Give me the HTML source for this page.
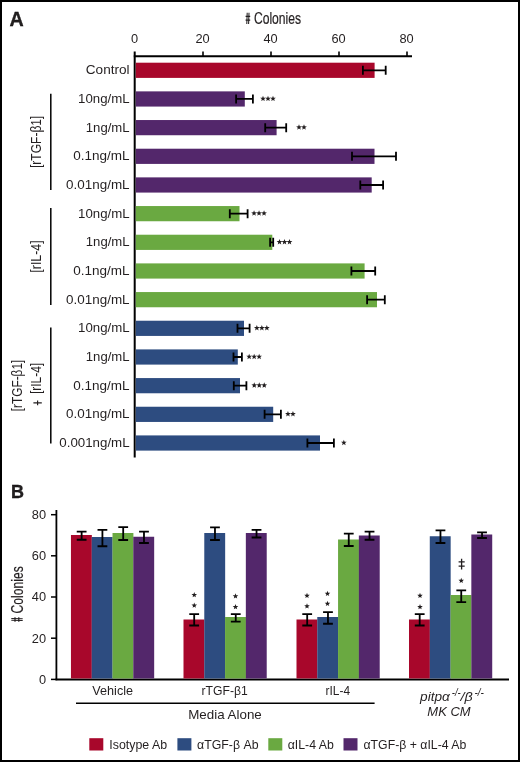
<!DOCTYPE html>
<html><head><meta charset="utf-8"><title>Figure</title>
<style>html,body{margin:0;padding:0;background:#fff}body{width:520px;height:762px;overflow:hidden}svg{display:block;will-change:transform}text{font-family:"Liberation Sans",sans-serif;fill:#231f20}</style>
</head><body>
<svg width="520" height="762" viewBox="0 0 520 762">
<rect x="0" y="0" width="520" height="762" fill="#fff"/>
<rect x="1" y="1" width="518" height="760" fill="none" stroke="#000" stroke-width="2"/>
<text x="9.4" y="26.2" font-size="19.6" font-weight="bold" fill="#000" stroke="#000" stroke-width="0.3" textLength="14.2" lengthAdjust="spacingAndGlyphs">A</text>
<g transform="translate(245.6 24.1)"><path d="M1.6 -11.4L1.2 0M3.4 -11.4L3 0" stroke="#231f20" stroke-width="1.05" fill="none"/><path d="M0 -7.7H4.6M0 -3.9H4.6" stroke="#231f20" stroke-width="1.2" fill="none"/><text x="8.3" y="0" font-size="16" textLength="47.2" stroke="#231f20" stroke-width="0.2" lengthAdjust="spacingAndGlyphs">Colonies</text></g>
<g stroke="#000" stroke-width="1.8" fill="none">
<path d="M134.7 51.5V457.5" stroke-width="2"/>
<path d="M133.8 56.3H412" stroke-width="2"/>
<path d="M203.0 51.5V56.3" stroke-width="1.6"/>
<path d="M271.0 51.5V56.3" stroke-width="1.6"/>
<path d="M339.0 51.5V56.3" stroke-width="1.6"/>
<path d="M407.0 51.5V56.3" stroke-width="1.6"/>
</g>
<text x="134.6" y="43.3" font-size="12.8" text-anchor="middle">0</text>
<text x="202.6" y="43.3" font-size="12.8" text-anchor="middle">20</text>
<text x="270.6" y="43.3" font-size="12.8" text-anchor="middle">40</text>
<text x="338.6" y="43.3" font-size="12.8" text-anchor="middle">60</text>
<text x="406.6" y="43.3" font-size="12.8" text-anchor="middle">80</text>
<rect x="135.8" y="62.70" width="238.8" height="15.2" fill="#a8072b"/>
<rect x="135.8" y="91.37" width="109.0" height="15.2" fill="#53276b"/>
<rect x="135.8" y="120.04" width="140.8" height="15.2" fill="#53276b"/>
<rect x="135.8" y="148.71" width="238.7" height="15.2" fill="#53276b"/>
<rect x="135.8" y="177.38" width="235.9" height="15.2" fill="#53276b"/>
<rect x="135.8" y="206.05" width="103.7" height="15.2" fill="#6aa941"/>
<rect x="135.8" y="234.72" width="136.5" height="15.2" fill="#6aa941"/>
<rect x="135.8" y="263.39" width="228.8" height="15.2" fill="#6aa941"/>
<rect x="135.8" y="292.06" width="241.2" height="15.2" fill="#6aa941"/>
<rect x="135.8" y="320.73" width="108.2" height="15.2" fill="#2d4c80"/>
<rect x="135.8" y="349.40" width="102.0" height="15.2" fill="#2d4c80"/>
<rect x="135.8" y="378.07" width="104.2" height="15.2" fill="#2d4c80"/>
<rect x="135.8" y="406.74" width="137.4" height="15.2" fill="#2d4c80"/>
<rect x="135.8" y="435.41" width="184.2" height="15.2" fill="#2d4c80"/>
<path d="M362.3 70.30H386.3M362.9 65.80V74.80M385.7 65.80V74.80" stroke="#000" stroke-width="1.8" fill="none"/>
<text x="85.8" y="74.40" font-size="13.3" textLength="43.8" lengthAdjust="spacingAndGlyphs">Control</text>
<path d="M235.5 98.97H253.5M236.1 94.47V103.47M252.9 94.47V103.47" stroke="#000" stroke-width="1.8" fill="none"/>
<g fill="#231f20"><polygon points="263.00,95.67 263.74,97.65 265.85,97.74 264.20,99.06 264.76,101.10 263.00,99.93 261.24,101.10 261.80,99.06 260.15,97.74 262.26,97.65"/><polygon points="268.00,95.67 268.74,97.65 270.85,97.74 269.20,99.06 269.76,101.10 268.00,99.93 266.24,101.10 266.80,99.06 265.15,97.74 267.26,97.65"/><polygon points="273.00,95.67 273.74,97.65 275.85,97.74 274.20,99.06 274.76,101.10 273.00,99.93 271.24,101.10 271.80,99.06 270.15,97.74 272.26,97.65"/></g>
<text x="78.1" y="103.07" font-size="13.3" textLength="51.5" lengthAdjust="spacingAndGlyphs">10ng/mL</text>
<path d="M264.6 127.64H286.8M265.2 123.14V132.14M286.2 123.14V132.14" stroke="#000" stroke-width="1.8" fill="none"/>
<g fill="#231f20"><polygon points="299.00,124.34 299.74,126.32 301.85,126.41 300.20,127.73 300.76,129.77 299.00,128.60 297.24,129.77 297.80,127.73 296.15,126.41 298.26,126.32"/><polygon points="304.00,124.34 304.74,126.32 306.85,126.41 305.20,127.73 305.76,129.77 304.00,128.60 302.24,129.77 302.80,127.73 301.15,126.41 303.26,126.32"/></g>
<text x="85.8" y="131.74" font-size="13.3" textLength="43.8" lengthAdjust="spacingAndGlyphs">1ng/mL</text>
<path d="M351.4 156.31H396.6M352.0 151.81V160.81M396.0 151.81V160.81" stroke="#000" stroke-width="1.8" fill="none"/>
<text x="73.3" y="160.41" font-size="13.3" textLength="56.3" lengthAdjust="spacingAndGlyphs">0.1ng/mL</text>
<path d="M359.7 184.98H383.7M360.3 180.48V189.48M383.1 180.48V189.48" stroke="#000" stroke-width="1.8" fill="none"/>
<text x="66.1" y="189.08" font-size="13.3" textLength="63.5" lengthAdjust="spacingAndGlyphs">0.01ng/mL</text>
<path d="M229.2 213.65H248.2M229.8 209.15V218.15M247.6 209.15V218.15" stroke="#000" stroke-width="1.8" fill="none"/>
<g fill="#231f20"><polygon points="254.05,210.35 254.79,212.33 256.90,212.42 255.25,213.74 255.81,215.78 254.05,214.61 252.29,215.78 252.85,213.74 251.20,212.42 253.31,212.33"/><polygon points="259.05,210.35 259.79,212.33 261.90,212.42 260.25,213.74 260.81,215.78 259.05,214.61 257.29,215.78 257.85,213.74 256.20,212.42 258.31,212.33"/><polygon points="264.05,210.35 264.79,212.33 266.90,212.42 265.25,213.74 265.81,215.78 264.05,214.61 262.29,215.78 262.85,213.74 261.20,212.42 263.31,212.33"/></g>
<text x="78.1" y="217.75" font-size="13.3" textLength="51.5" lengthAdjust="spacingAndGlyphs">10ng/mL</text>
<path d="M269.5 242.32H273.8M270.1 237.82V246.82M273.2 237.82V246.82" stroke="#000" stroke-width="1.8" fill="none"/>
<g fill="#231f20"><polygon points="279.50,239.02 280.24,241.00 282.35,241.09 280.70,242.41 281.26,244.45 279.50,243.28 277.74,244.45 278.30,242.41 276.65,241.09 278.76,241.00"/><polygon points="284.50,239.02 285.24,241.00 287.35,241.09 285.70,242.41 286.26,244.45 284.50,243.28 282.74,244.45 283.30,242.41 281.65,241.09 283.76,241.00"/><polygon points="289.50,239.02 290.24,241.00 292.35,241.09 290.70,242.41 291.26,244.45 289.50,243.28 287.74,244.45 288.30,242.41 286.65,241.09 288.76,241.00"/></g>
<text x="85.8" y="246.42" font-size="13.3" textLength="43.8" lengthAdjust="spacingAndGlyphs">1ng/mL</text>
<path d="M350.8 270.99H375.8M351.4 266.49V275.49M375.2 266.49V275.49" stroke="#000" stroke-width="1.8" fill="none"/>
<text x="73.3" y="275.09" font-size="13.3" textLength="56.3" lengthAdjust="spacingAndGlyphs">0.1ng/mL</text>
<path d="M366.5 299.66H385.4M367.1 295.16V304.16M384.8 295.16V304.16" stroke="#000" stroke-width="1.8" fill="none"/>
<text x="66.1" y="303.76" font-size="13.3" textLength="63.5" lengthAdjust="spacingAndGlyphs">0.01ng/mL</text>
<path d="M236.9 328.33H250.2M237.5 323.83V332.83M249.6 323.83V332.83" stroke="#000" stroke-width="1.8" fill="none"/>
<g fill="#231f20"><polygon points="256.85,325.03 257.59,327.01 259.70,327.10 258.05,328.42 258.61,330.46 256.85,329.29 255.09,330.46 255.65,328.42 254.00,327.10 256.11,327.01"/><polygon points="261.85,325.03 262.59,327.01 264.70,327.10 263.05,328.42 263.61,330.46 261.85,329.29 260.09,330.46 260.65,328.42 259.00,327.10 261.11,327.01"/><polygon points="266.85,325.03 267.59,327.01 269.70,327.10 268.05,328.42 268.61,330.46 266.85,329.29 265.09,330.46 265.65,328.42 264.00,327.10 266.11,327.01"/></g>
<text x="78.1" y="332.43" font-size="13.3" textLength="51.5" lengthAdjust="spacingAndGlyphs">10ng/mL</text>
<path d="M232.9 357.00H242.5M233.5 352.50V361.50M241.9 352.50V361.50" stroke="#000" stroke-width="1.8" fill="none"/>
<g fill="#231f20"><polygon points="249.15,353.70 249.89,355.68 252.00,355.77 250.35,357.09 250.91,359.13 249.15,357.96 247.39,359.13 247.95,357.09 246.30,355.77 248.41,355.68"/><polygon points="254.15,353.70 254.89,355.68 257.00,355.77 255.35,357.09 255.91,359.13 254.15,357.96 252.39,359.13 252.95,357.09 251.30,355.77 253.41,355.68"/><polygon points="259.15,353.70 259.89,355.68 262.00,355.77 260.35,357.09 260.91,359.13 259.15,357.96 257.39,359.13 257.95,357.09 256.30,355.77 258.41,355.68"/></g>
<text x="85.8" y="361.10" font-size="13.3" textLength="43.8" lengthAdjust="spacingAndGlyphs">1ng/mL</text>
<path d="M233.2 385.67H247.0M233.8 381.17V390.17M246.4 381.17V390.17" stroke="#000" stroke-width="1.8" fill="none"/>
<g fill="#231f20"><polygon points="254.25,382.37 254.99,384.35 257.10,384.44 255.45,385.76 256.01,387.80 254.25,386.63 252.49,387.80 253.05,385.76 251.40,384.44 253.51,384.35"/><polygon points="259.25,382.37 259.99,384.35 262.10,384.44 260.45,385.76 261.01,387.80 259.25,386.63 257.49,387.80 258.05,385.76 256.40,384.44 258.51,384.35"/><polygon points="264.25,382.37 264.99,384.35 267.10,384.44 265.45,385.76 266.01,387.80 264.25,386.63 262.49,387.80 263.05,385.76 261.40,384.44 263.51,384.35"/></g>
<text x="73.3" y="389.77" font-size="13.3" textLength="56.3" lengthAdjust="spacingAndGlyphs">0.1ng/mL</text>
<path d="M264.0 414.34H281.5M264.6 409.84V418.84M280.9 409.84V418.84" stroke="#000" stroke-width="1.8" fill="none"/>
<g fill="#231f20"><polygon points="287.95,411.04 288.69,413.02 290.80,413.11 289.15,414.43 289.71,416.47 287.95,415.30 286.19,416.47 286.75,414.43 285.10,413.11 287.21,413.02"/><polygon points="292.95,411.04 293.69,413.02 295.80,413.11 294.15,414.43 294.71,416.47 292.95,415.30 291.19,416.47 291.75,414.43 290.10,413.11 292.21,413.02"/></g>
<text x="66.1" y="418.44" font-size="13.3" textLength="63.5" lengthAdjust="spacingAndGlyphs">0.01ng/mL</text>
<path d="M306.8 443.01H334.5M307.4 438.51V447.51M333.9 438.51V447.51" stroke="#000" stroke-width="1.8" fill="none"/>
<g fill="#231f20"><polygon points="343.85,439.71 344.59,441.69 346.70,441.78 345.05,443.10 345.61,445.14 343.85,443.97 342.09,445.14 342.65,443.10 341.00,441.78 343.11,441.69"/></g>
<text x="59.3" y="447.11" font-size="13.3" textLength="70.3" lengthAdjust="spacingAndGlyphs">0.001ng/mL</text>
<g stroke="#000" stroke-width="1.5">
<path d="M50.8 93.8V190"/><path d="M50.8 208V305"/><path d="M50.8 327.4V443.4"/>
</g>
<g transform="translate(41.2 141.8) rotate(-90)">
<text x="-26.00" y="-0.7" font-size="14.5" textLength="3.13" lengthAdjust="spacingAndGlyphs">[</text>
<text x="-22.87" y="0.0" font-size="15.5" textLength="45.74" lengthAdjust="spacingAndGlyphs">rTGF-β1</text>
<text x="22.87" y="-0.7" font-size="14.5" textLength="3.13" lengthAdjust="spacingAndGlyphs">]</text>
</g>
<g transform="translate(41.2 256.5) rotate(-90)">
<text x="-15.90" y="-0.7" font-size="14.5" textLength="3.21" lengthAdjust="spacingAndGlyphs">[</text>
<text x="-12.69" y="0.0" font-size="15.5" textLength="25.38" lengthAdjust="spacingAndGlyphs">rIL-4</text>
<text x="12.69" y="-0.7" font-size="14.5" textLength="3.21" lengthAdjust="spacingAndGlyphs">]</text>
</g>
<g transform="translate(22.2 385.5) rotate(-90)">
<text x="-25.65" y="-0.7" font-size="14.5" textLength="3.09" lengthAdjust="spacingAndGlyphs">[</text>
<text x="-22.56" y="0.0" font-size="15.5" textLength="45.12" lengthAdjust="spacingAndGlyphs">rTGF-β1</text>
<text x="22.56" y="-0.7" font-size="14.5" textLength="3.09" lengthAdjust="spacingAndGlyphs">]</text>
</g>
<g transform="translate(41.2 378.4) rotate(-90)">
<text x="-15.40" y="-0.7" font-size="14.5" textLength="3.11" lengthAdjust="spacingAndGlyphs">[</text>
<text x="-12.29" y="0.0" font-size="15.5" textLength="24.58" lengthAdjust="spacingAndGlyphs">rIL-4</text>
<text x="12.29" y="-0.7" font-size="14.5" textLength="3.11" lengthAdjust="spacingAndGlyphs">]</text>
</g>
<path d="M33.4 402.9H41.8M37.6 400.5V405.3" stroke="#231f20" stroke-width="1.15" fill="none"/>
<text x="10.9" y="497.5" font-size="19.2" font-weight="bold" fill="#000" stroke="#000" stroke-width="0.3" textLength="13" lengthAdjust="spacingAndGlyphs">B</text>
<g stroke="#000" stroke-width="1.8" fill="none">
<path d="M56.4 510V680.2"/>
<path d="M55.5 679.4H509" stroke-width="2"/>
</g>
<g stroke="#000" stroke-width="1.5" fill="none">
<path d="M51 679.4H56.4"/>
<path d="M51 638.2H56.4"/>
<path d="M51 597.0H56.4"/>
<path d="M51 555.8H56.4"/>
<path d="M51 514.7H56.4"/>
</g>
<text x="46" y="683.6" font-size="12.8" text-anchor="end">0</text>
<text x="46" y="642.5" font-size="12.8" text-anchor="end">20</text>
<text x="46" y="601.3" font-size="12.8" text-anchor="end">40</text>
<text x="46" y="560.1" font-size="12.8" text-anchor="end">60</text>
<text x="46" y="519.0" font-size="12.8" text-anchor="end">80</text>
<g transform="translate(22.7 621.8) rotate(-90)"><path d="M1.6 -11.4L1.2 0M3.4 -11.4L3 0" stroke="#231f20" stroke-width="1.05" fill="none"/><path d="M0 -7.7H4.6M0 -3.9H4.6" stroke="#231f20" stroke-width="1.2" fill="none"/><text x="8.3" y="0" font-size="16" textLength="47.2" stroke="#231f20" stroke-width="0.2" lengthAdjust="spacingAndGlyphs">Colonies</text></g>
<rect x="70.95" y="535.00" width="20.88" height="143.45" fill="#a8072b"/>
<rect x="91.73" y="537.00" width="20.88" height="141.45" fill="#2d4c80"/>
<rect x="112.51" y="533.00" width="20.88" height="145.45" fill="#6aa941"/>
<rect x="133.29" y="536.75" width="20.88" height="141.70" fill="#53276b"/>
<rect x="183.50" y="619.50" width="20.88" height="58.95" fill="#a8072b"/>
<rect x="204.28" y="533.00" width="20.88" height="145.45" fill="#2d4c80"/>
<rect x="225.06" y="617.00" width="20.88" height="61.45" fill="#6aa941"/>
<rect x="245.84" y="533.00" width="20.88" height="145.45" fill="#53276b"/>
<rect x="296.50" y="619.50" width="20.88" height="58.95" fill="#a8072b"/>
<rect x="317.28" y="617.00" width="20.88" height="61.45" fill="#2d4c80"/>
<rect x="338.06" y="539.50" width="20.88" height="138.95" fill="#6aa941"/>
<rect x="358.84" y="535.50" width="20.88" height="142.95" fill="#53276b"/>
<rect x="409.00" y="619.50" width="20.88" height="58.95" fill="#a8072b"/>
<rect x="429.78" y="536.25" width="20.88" height="142.20" fill="#2d4c80"/>
<rect x="450.56" y="595.00" width="20.88" height="83.45" fill="#6aa941"/>
<rect x="471.34" y="534.50" width="20.88" height="143.95" fill="#53276b"/>
<path d="M81.64 531.55V539.75M76.74 531.55H86.54M76.74 539.75H86.54" stroke="#000" stroke-width="1.8" fill="none"/>
<path d="M102.42 529.80V546.25M97.52 529.80H107.32M97.52 546.25H107.32" stroke="#000" stroke-width="1.8" fill="none"/>
<path d="M123.20 527.05V540.00M118.30 527.05H128.10M118.30 540.00H128.10" stroke="#000" stroke-width="1.8" fill="none"/>
<path d="M143.98 531.55V543.00M139.08 531.55H148.88M139.08 543.00H148.88" stroke="#000" stroke-width="1.8" fill="none"/>
<path d="M194.19 614.05V625.50M189.29 614.05H199.09M189.29 625.50H199.09" stroke="#000" stroke-width="1.8" fill="none"/>
<path d="M214.97 527.30V540.00M210.07 527.30H219.87M210.07 540.00H219.87" stroke="#000" stroke-width="1.8" fill="none"/>
<path d="M235.75 614.05V621.70M230.85 614.05H240.65M230.85 621.70H240.65" stroke="#000" stroke-width="1.8" fill="none"/>
<path d="M256.53 529.80V537.50M251.63 529.80H261.43M251.63 537.50H261.43" stroke="#000" stroke-width="1.8" fill="none"/>
<path d="M307.19 614.05V625.50M302.29 614.05H312.09M302.29 625.50H312.09" stroke="#000" stroke-width="1.8" fill="none"/>
<path d="M327.97 612.05V623.75M323.07 612.05H332.87M323.07 623.75H332.87" stroke="#000" stroke-width="1.8" fill="none"/>
<path d="M348.75 533.55V546.00M343.85 533.55H353.65M343.85 546.00H353.65" stroke="#000" stroke-width="1.8" fill="none"/>
<path d="M369.53 531.55V539.75M364.63 531.55H374.43M364.63 539.75H374.43" stroke="#000" stroke-width="1.8" fill="none"/>
<path d="M419.69 614.05V625.50M414.79 614.05H424.59M414.79 625.50H424.59" stroke="#000" stroke-width="1.8" fill="none"/>
<path d="M440.47 530.30V543.00M435.57 530.30H445.37M435.57 543.00H445.37" stroke="#000" stroke-width="1.8" fill="none"/>
<path d="M461.25 590.30V602.10M456.35 590.30H466.15M456.35 602.10H466.15" stroke="#000" stroke-width="1.8" fill="none"/>
<path d="M482.03 532.30V538.00M477.13 532.30H486.93M477.13 538.00H486.93" stroke="#000" stroke-width="1.8" fill="none"/>
<g fill="#231f20">
<polygon points="194.25,592.10 194.97,594.01 197.01,594.10 195.41,595.38 195.95,597.35 194.25,596.22 192.55,597.35 193.09,595.38 191.49,594.10 193.53,594.01"/>
<polygon points="194.25,602.60 194.97,604.51 197.01,604.60 195.41,605.88 195.95,607.85 194.25,606.72 192.55,607.85 193.09,605.88 191.49,604.60 193.53,604.51"/>
<polygon points="235.50,593.35 236.22,595.26 238.26,595.35 236.66,596.63 237.20,598.60 235.50,597.47 233.80,598.60 234.34,596.63 232.74,595.35 234.78,595.26"/>
<polygon points="235.50,604.10 236.22,606.01 238.26,606.10 236.66,607.38 237.20,609.35 235.50,608.22 233.80,609.35 234.34,607.38 232.74,606.10 234.78,606.01"/>
<polygon points="307.00,592.85 307.72,594.76 309.76,594.85 308.16,596.13 308.70,598.10 307.00,596.97 305.30,598.10 305.84,596.13 304.24,594.85 306.28,594.76"/>
<polygon points="307.00,603.35 307.72,605.26 309.76,605.35 308.16,606.63 308.70,608.60 307.00,607.47 305.30,608.60 305.84,606.63 304.24,605.35 306.28,605.26"/>
<polygon points="327.50,590.85 328.22,592.76 330.26,592.85 328.66,594.13 329.20,596.10 327.50,594.97 325.80,596.10 326.34,594.13 324.74,592.85 326.78,592.76"/>
<polygon points="327.50,600.85 328.22,602.76 330.26,602.85 328.66,604.13 329.20,606.10 327.50,604.97 325.80,606.10 326.34,604.13 324.74,602.85 326.78,602.76"/>
<polygon points="420.00,592.85 420.72,594.76 422.76,594.85 421.16,596.13 421.70,598.10 420.00,596.97 418.30,598.10 418.84,596.13 417.24,594.85 419.28,594.76"/>
<polygon points="420.00,604.10 420.72,606.01 422.76,606.10 421.16,607.38 421.70,609.35 420.00,608.22 418.30,609.35 418.84,607.38 417.24,606.10 419.28,606.01"/>
<polygon points="461.25,577.85 461.97,579.76 464.01,579.85 462.41,581.13 462.95,583.10 461.25,581.97 459.55,583.10 460.09,581.13 458.49,579.85 460.53,579.76"/>
</g>
<path d="M461.6 558.8V569.4M458.6 561.9H464.7M458.6 566.1H464.7" stroke="#231f20" stroke-width="1.3" fill="none"/>
<text x="112.7" y="695.4" font-size="13.2" text-anchor="middle" textLength="40.7" lengthAdjust="spacingAndGlyphs">Vehicle</text>
<text x="224.6" y="695.4" font-size="13.2" text-anchor="middle" textLength="46.2" lengthAdjust="spacingAndGlyphs">rTGF-β1</text>
<text x="337.8" y="695.4" font-size="13.2" text-anchor="middle" textLength="24.5" lengthAdjust="spacingAndGlyphs">rIL-4</text>
<path d="M76 703.2H374.6" stroke="#000" stroke-width="1.6"/>
<text x="225" y="719.2" font-size="13" text-anchor="middle" textLength="73.6" lengthAdjust="spacingAndGlyphs">Media Alone</text>
<g font-style="italic">
<text x="420.1" y="701.3" font-size="13.2" textLength="29.8" lengthAdjust="spacingAndGlyphs">pitpα</text>
<text x="451.8" y="696.3" font-size="10.4" textLength="9" lengthAdjust="spacingAndGlyphs">-/-</text>
<text x="460.6" y="701.3" font-size="13.2" textLength="12.2" lengthAdjust="spacingAndGlyphs">/β</text>
<text x="474.4" y="696.3" font-size="10.4" textLength="9.4" lengthAdjust="spacingAndGlyphs">-/-</text>
</g>
<text x="449" y="716" font-size="13.2" font-style="italic" text-anchor="middle" textLength="43.3" lengthAdjust="spacingAndGlyphs">MK CM</text>
<rect x="89.3" y="738.2" width="14" height="12.3" fill="#a8072b"/>
<text x="109.3" y="749.3" font-size="13" textLength="57.8" lengthAdjust="spacingAndGlyphs">Isotype Ab</text>
<rect x="177.4" y="738.2" width="14" height="12.3" fill="#2d4c80"/>
<text x="197.0" y="749.3" font-size="13" textLength="61.5" lengthAdjust="spacingAndGlyphs">αTGF-β Ab</text>
<rect x="268.3" y="738.2" width="14" height="12.3" fill="#6aa941"/>
<text x="287.7" y="749.3" font-size="13" textLength="46.1" lengthAdjust="spacingAndGlyphs">αIL-4 Ab</text>
<rect x="343.5" y="738.2" width="14" height="12.3" fill="#53276b"/>
<text x="363.5" y="749.3" font-size="13" textLength="102.8" lengthAdjust="spacingAndGlyphs">αTGF-β + αIL-4 Ab</text>
</svg>
</body></html>
